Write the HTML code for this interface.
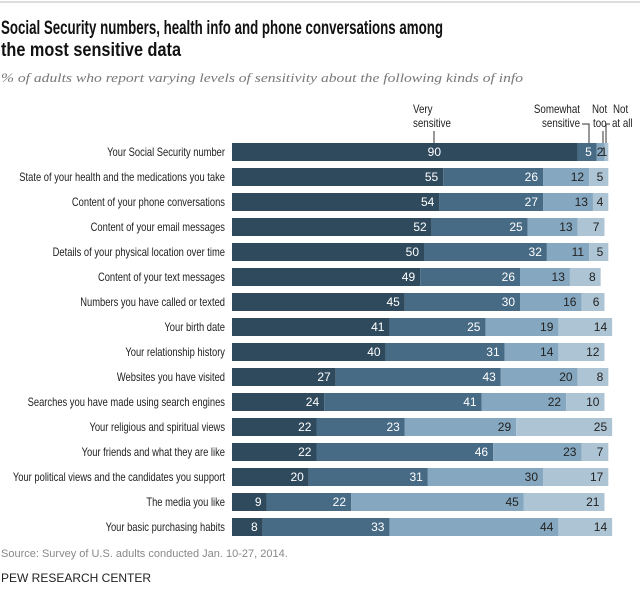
<!DOCTYPE html>
<html><head><meta charset="utf-8"><style>
body{margin:0;background:#fff;width:640px;height:609px;overflow:hidden;font-family:"Liberation Sans",Arial,sans-serif}
svg text{font-family:"Liberation Sans",Arial,sans-serif}
</style></head><body>
<svg width="640" height="609">
<line x1="0" y1="2" x2="640" y2="2" stroke="#bbb" stroke-width="1"/>
<text x="1" y="34" font-size="19" font-weight="bold" fill="#111" style="font-family:'Liberation Sans Narrow','Liberation Sans',sans-serif" textLength="442" lengthAdjust="spacingAndGlyphs">Social Security numbers, health info and phone conversations among</text>
<text x="1" y="56" font-size="19" font-weight="bold" fill="#111" style="font-family:'Liberation Sans Narrow','Liberation Sans',sans-serif" textLength="180" lengthAdjust="spacingAndGlyphs">the most sensitive data</text>
<text x="1" y="82" font-size="13" font-style="italic" fill="#777" style="font-family:'Liberation Serif',serif" textLength="522" lengthAdjust="spacingAndGlyphs">% of adults who report varying levels of sensitivity about the following kinds of info</text>
<g font-size="11.5" fill="#222">
<text transform="translate(413,113) scale(0.85,1)">Very</text>
<text transform="translate(413,127) scale(0.85,1)">sensitive</text>
<line x1="434" y1="131" x2="434" y2="145" stroke="#333"/>
<text transform="translate(580,113) scale(0.85,1)" text-anchor="end">Somewhat</text>
<text transform="translate(580,127) scale(0.85,1)" text-anchor="end">sensitive</text>
<polyline points="582,124 589,124 589,145" fill="none" stroke="#333"/>
<text transform="translate(592,113) scale(0.85,1)">Not</text>
<text transform="translate(593,127) scale(0.85,1)">too</text>
<line x1="603" y1="131" x2="603" y2="145" stroke="#333"/>
<text transform="translate(613,113) scale(0.85,1)">Not</text>
<text transform="translate(612,127) scale(0.85,1)">at all</text>
<polyline points="610,124 606,124 606,145" fill="none" stroke="#333"/>
</g>
<g id="bars"></g>
<text x="1" y="557" font-size="11" fill="#888">Source: Survey of U.S. adults conducted Jan. 10-27, 2014.</text>
<text x="1" y="582" font-size="12" fill="#222">PEW RESEARCH CENTER</text>
</svg>
<script>
const categories=["Your Social Security number","State of your health and the medications you take","Content of your phone conversations","Content of your email messages","Details of your physical location over time","Content of your text messages","Numbers you have called or texted","Your birth date","Your relationship history","Websites you have visited","Searches you have made using search engines","Your religious and spiritual views","Your friends and what they are like","Your political views and the candidates you support","The media you like","Your basic purchasing habits"];
const verySensitive=[90,55,54,52,50,49,45,41,40,27,24,22,22,20,9,8];
const somewhatSensitive=[5,26,27,25,32,26,30,25,31,43,41,23,46,31,22,33];
const notTooSensitive=[2,12,13,13,11,13,16,19,14,20,22,29,23,30,45,44];
const notAtAllSensitive=[1,5,4,7,5,8,6,14,12,8,10,25,7,17,21,14];
const series=[verySensitive,somewhatSensitive,notTooSensitive,notAtAllSensitive];
const colors=["#2f4a5d","#476a85","#85a7bf","#adc4d4"];
const textColors=["#fff","#fff","#222","#222"];
const x0=232,scale=3.84,y0=143,step=25,bh=18;
const xs=v=>v*scale;
const ys=i=>y0+i*step;
const g=document.getElementById('bars');
const NS="http://www.w3.org/2000/svg";
categories.forEach((c,i)=>{
  const t=document.createElementNS(NS,'text');
  
  
  t.setAttribute('transform','translate(225,'+(ys(i)+bh/2+4)+') scale(0.815,1)');
  t.setAttribute('text-anchor','end');t.setAttribute('font-size','11.5');t.setAttribute('fill','#222');
  t.textContent=c;g.appendChild(t);
  let acc=0;
  series.forEach((s,k)=>{
    const v=s[i];
    const r=document.createElementNS(NS,'rect');
    
    
    r.setAttribute('x',x0+xs(acc));r.setAttribute('y',ys(i));
    r.setAttribute('width',xs(v));r.setAttribute('height',bh);
    r.setAttribute('fill',colors[k]);g.appendChild(r);
    acc+=v;
    const l=document.createElementNS(NS,'text');
    
    
    const small=(i===0&&k>=2);
    let lx=x0+xs(acc)-(small?1:5);
    if(k===0) lx=Math.min(lx,441);
    l.setAttribute('x',lx);l.setAttribute('y',ys(i)+bh/2+4);
    l.setAttribute('text-anchor','end');l.setAttribute('font-size','12');
    l.setAttribute('fill',textColors[k]);
    l.textContent=v;g.appendChild(l);
  });
});
</script>
</body></html>
